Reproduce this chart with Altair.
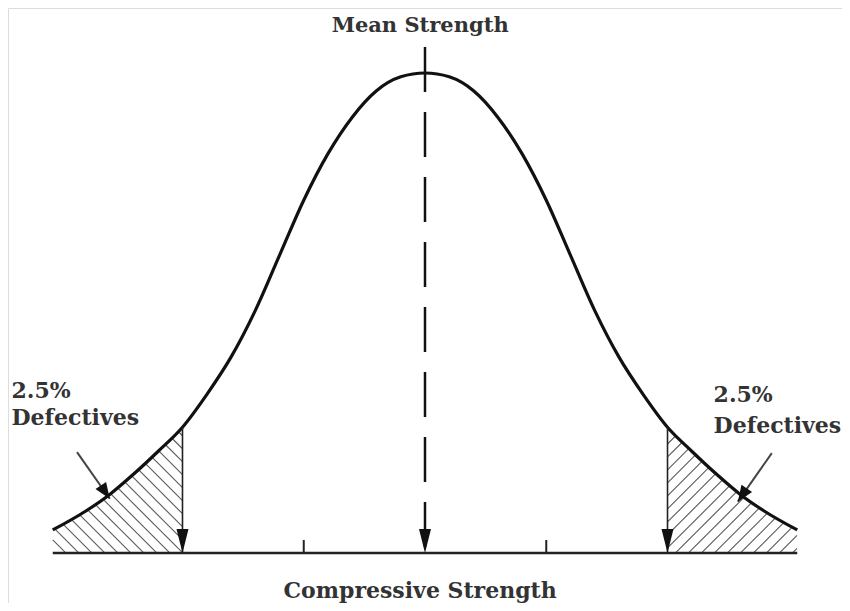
import altair as alt
import pandas as pd
import numpy as np

# ---- data (x in standard deviations from the mean, y = relative height, peak = 100)
curve_x = [-3.07, -2.8, -2.6, -2.4, -2.2, -2.0, -1.8, -1.6, -1.4, -1.2, -1.0, -0.8, -0.6, -0.4, -0.2,
           0.0, 0.2, 0.4, 0.6, 0.8, 1.0, 1.2, 1.4, 1.6, 1.8, 2.0, 2.2, 2.4, 2.6, 2.8, 3.07]
curve_y = [4.8, 8.7, 12.2, 16.5, 21.2, 26.2, 33.0, 40.8, 50.5, 62.0, 73.5, 83.2, 90.8, 96.3, 99.2,
           100.0, 99.2, 96.3, 90.8, 83.2, 73.5, 62.0, 50.5, 40.8, 33.0, 26.2, 21.2, 16.5, 12.2, 8.7, 4.8]

limit_x = [-2.0, 2.0]           # 2.5 % limits (mean +/- 2 sigma)
limit_top = [26.2, 26.2]
mean_x = [0.0]
mean_top = [105.4]
tick_x = [-1.0, 1.0]
tick_h = [2.7, 2.7]

label_text = ["Mean Strength", "Compressive Strength"]
label_x = [-0.04, -0.04]
label_y = [108.5, -9.4]
label_size = [21, 22]

side_text = ["2.5%", "Defectives", "2.5%", "Defectives"]
side_x = [-3.41, -3.41, 2.38, 2.38]
side_y = [32.3, 26.7, 31.4, 25.0]

ptr_x = [-2.87, 2.86]
ptr_y = [21.0, 20.8]
ptr_x2 = [-2.60, 2.58]
ptr_y2 = [11.3, 10.7]

# ---- scale geometry (pixels per unit) used only to build the hatch decoration
PX_X = 121.25
PX_Y = 4.8
XDOM = [-3.439, 3.439]
YDOM = [-10.42, 113.54]

cx = np.array(curve_x)
cy = np.array(curve_y)


def hatch(x_lo, x_hi, direction, spacing_px=13.0):
    segs = []
    t = np.arange(0, 200, 0.25)
    span = 200 / PX_X
    if direction < 0:
        feet = np.arange(x_lo, x_hi + span, spacing_px / PX_X)
    else:
        feet = np.arange(x_lo - span, x_hi, spacing_px / PX_X)
    for f in feet:
        xs = f + direction * t / PX_X
        ys = t / PX_Y
        ok = (xs >= x_lo) & (xs <= x_hi) & (ys <= np.interp(xs, cx, cy) - 0.3)
        idx = np.where(ok)[0]
        if len(idx) < 2:
            continue
        a, b = idx[0], idx[-1]
        segs.append(dict(x=xs[a], y=ys[a], x2=xs[b], y2=ys[b]))
    return segs


hatch_df = pd.DataFrame(hatch(curve_x[0], limit_x[0], -1) + hatch(limit_x[1], curve_x[-1], 1))
curve_df = pd.DataFrame({"x": curve_x, "y": curve_y})
limit_df = pd.DataFrame({"x": limit_x, "top": limit_top})
mean_df = pd.DataFrame({"x": mean_x, "top": mean_top})
tick_df = pd.DataFrame({"x": tick_x, "h": tick_h})
head_df = pd.DataFrame({"x": limit_x + mean_x, "y": [0, 0, 0]})
label_df = pd.DataFrame({"t": label_text, "x": label_x, "y": label_y, "s": label_size})
side_df = pd.DataFrame({"t": side_text, "x": side_x, "y": side_y})
ptr_df = pd.DataFrame({"x": ptr_x, "y": ptr_y, "x2": ptr_x2, "y2": ptr_y2})
base_df = pd.DataFrame({"x": [curve_x[0]], "x2": [curve_x[-1]], "y": [0]})

X = lambda f="x": alt.X(f, type="quantitative", scale=alt.Scale(domain=XDOM, nice=False, zero=False), axis=None)
Y = lambda f="y": alt.Y(f, type="quantitative", scale=alt.Scale(domain=YDOM, nice=False, zero=False), axis=None)

hatch_layer = alt.Chart(hatch_df).mark_rule(color="#5a5a5a", strokeWidth=1.1).encode(
    x=X(), y=Y(), x2="x2", y2="y2")

curve_layer = alt.Chart(curve_df).mark_line(color="#111", strokeWidth=3.2, interpolate="monotone").encode(
    x=X(), y=Y())

base_layer = alt.Chart(base_df).mark_rule(color="#222", strokeWidth=2.5).encode(
    x=X(), x2="x2", y=Y())

tick_layer = alt.Chart(tick_df).transform_calculate(z="0").mark_rule(color="#222", strokeWidth=2).encode(
    x=X(), y=Y("h"), y2="z:Q")

mean_layer = alt.Chart(mean_df).transform_calculate(z="0").mark_rule(
    color="#111", strokeWidth=2.5, strokeDash=[45, 20]).encode(
    x=X(), y=Y("top"), y2="z:Q")

limit_layer = alt.Chart(limit_df).transform_calculate(z="0").mark_rule(color="#222", strokeWidth=1.6).encode(
    x=X(), y=Y("top"), y2="z:Q")

ARROW = "M-0.25,-1L0.25,-1L0,0Z"
head_layer = alt.Chart(head_df).mark_point(shape=ARROW, filled=True, size=2304, color="#111", opacity=1).encode(
    x=X(), y=Y())

ptr_layer = alt.Chart(ptr_df).mark_rule(color="#444", strokeWidth=2).encode(
    x=X(), y=Y(), x2="x2", y2="y2")

PTR = "M-0.4,-1L0.4,-1L0,0Z"
ptr_head_l = alt.Chart(ptr_df.iloc[[0]]).mark_point(shape=PTR, filled=True, size=1024, color="#111",
                                                    opacity=1, angle=326).encode(x=X("x2"), y=Y("y2"))
ptr_head_r = alt.Chart(ptr_df.iloc[[1]]).mark_point(shape=PTR, filled=True, size=1024, color="#111",
                                                    opacity=1, angle=34).encode(x=X("x2"), y=Y("y2"))

label_layer = alt.Chart(label_df).mark_text(font="DejaVu Serif", fontWeight="bold",
                                            color="#333", align="center", baseline="alphabetic").encode(
    x=X(), y=Y(), text="t", size=alt.Size("s:Q", scale=None, legend=None))

side_layer = alt.Chart(side_df).mark_text(font="DejaVu Serif", fontWeight="bold", fontSize=22,
                                          color="#333", align="left", baseline="alphabetic").encode(
    x=X(), y=Y(), text="t")

chart = alt.layer(
    hatch_layer, curve_layer, base_layer, tick_layer, mean_layer, limit_layer, head_layer,
    ptr_layer, ptr_head_l, ptr_head_r, label_layer, side_layer
).properties(
    width=834, height=595, autosize=alt.AutoSizeParams(type="none"), padding=0
).configure_view(stroke=None).configure(background="white")

chart.save("out.html", embed_options={"renderer": "svg", "actions": False})
